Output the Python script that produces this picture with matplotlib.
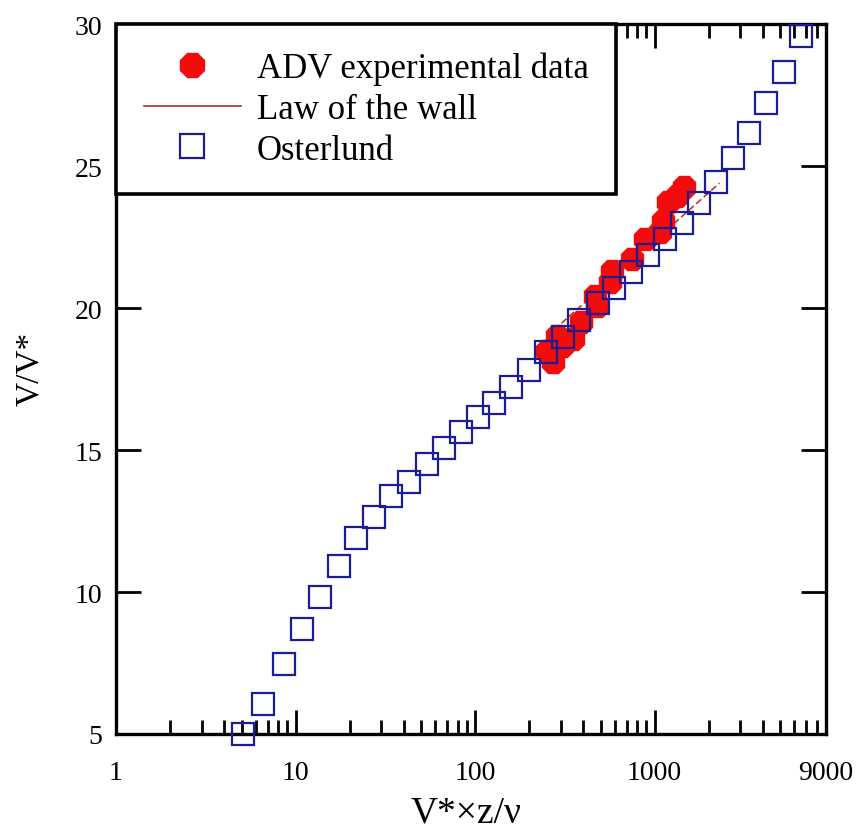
import matplotlib
matplotlib.use("Agg")
import matplotlib.pyplot as plt
from matplotlib.lines import Line2D
from matplotlib.ticker import LogLocator, NullFormatter

# Osterlund profile
ost_x = [5.1, 6.6, 8.6, 10.9, 13.7, 17.5, 21.7, 27.3, 34.0, 42.8, 53.9, 67.0,
         83.4, 104, 127, 158, 199, 248, 308, 378, 483, 593, 737, 916, 1140,
         1417, 1762, 2193, 2724, 3348, 4159, 5237, 6515]
ost_y = [5.00, 6.06, 7.46, 8.70, 9.82, 10.92, 11.90, 12.64, 13.38, 13.87,
         14.51, 15.07, 15.63, 16.16, 16.65, 17.22, 17.82, 18.45, 18.98, 19.58,
         20.18, 20.70, 21.27, 21.87, 22.43, 22.99, 23.70, 24.44, 25.28, 26.16,
         27.22, 28.31, 29.58]

# ADV measurements
adv_x = [271, 251, 304, 285, 351, 388, 477, 465, 563, 578, 747, 882, 1069,
         1111, 1184, 1330, 1455]
adv_y = [18.10, 18.49, 18.66, 19.01, 18.91, 19.51, 20.07, 20.42, 20.92, 21.30,
         21.73, 22.43, 22.68, 23.06, 23.73, 23.94, 24.26]

# law of the wall segment end points
law_x = [250, 2300]
law_y = [19.0, 24.4]

x_ticks = [1, 10, 100, 1000, 9000]
x_labels = ["1", "10", "100", "1000", "9000"]
y_ticks = [5, 10, 15, 20, 25, 30]

plt.rcParams['font.family'] = ['Liberation Serif', 'DejaVu Serif']

fig = plt.figure(figsize=(8.57, 8.29), dpi=100)
ax = fig.add_axes([0.1354, 0.1134, 0.8284, 0.8564])

ax.plot(law_x, law_y, color='#b04020', lw=1.2, ls=(0, (4, 2)), zorder=2)
ax.plot(adv_x, adv_y, ls='none', marker='8', ms=17, color='#f20c0c',
        mec='#f20c0c', zorder=3, clip_on=False)
ax.plot(ost_x, ost_y, ls='none', marker='s', ms=16, mfc='none',
        mec='#1c1c94', mew=1.6, zorder=4, clip_on=False)

ax.set_xscale('log')
ax.set_xlim(1, 9000)
ax.set_ylim(5, 30)

ax.set_xticks(x_ticks)
ax.set_xticklabels(x_labels)
ax.xaxis.set_minor_locator(LogLocator(base=10, subs=range(2, 10)))
ax.xaxis.set_minor_formatter(NullFormatter())
ax.set_yticks(y_ticks)

for s in ax.spines.values():
    s.set_linewidth(2.4)

ax.tick_params(axis='x', which='major', direction='in', length=17, width=2,
               top=True, bottom=True, labelsize=20, pad=19)
ax.tick_params(axis='x', which='minor', direction='in', length=10, width=2,
               top=True, bottom=True)
ax.tick_params(axis='y', which='major', direction='in', length=18, width=2,
               left=True, right=True, labelsize=20, pad=10)

ax.set_xlabel("V*×z/ν", fontsize=27)
ax.xaxis.set_label_coords(0.493, -0.086)
ax.set_ylabel("V/V*", fontsize=24)
ax.yaxis.set_label_coords(-0.10, 0.515)

handles = [
    Line2D([], [], ls='none', marker='8', ms=19, color='#f20c0c'),
    Line2D([], [], color='#b03030', lw=1.2),
    Line2D([], [], ls='none', marker='s', ms=17, mfc='none', mec='#1c1c94', mew=1.6),
]
labels = ["ADV experimental data", "Law of the wall", "Osterlund"]
leg = ax.legend(handles, labels, loc='upper left', bbox_to_anchor=(0, 1),
                borderaxespad=0, fancybox=False, framealpha=1, edgecolor='black',
                fontsize=25, handlelength=2.8, handletextpad=0.45,
                borderpad=0.8, labelspacing=0.22)
leg.get_frame().set_linewidth(2.6)

fig.savefig("out.png", dpi=100)
